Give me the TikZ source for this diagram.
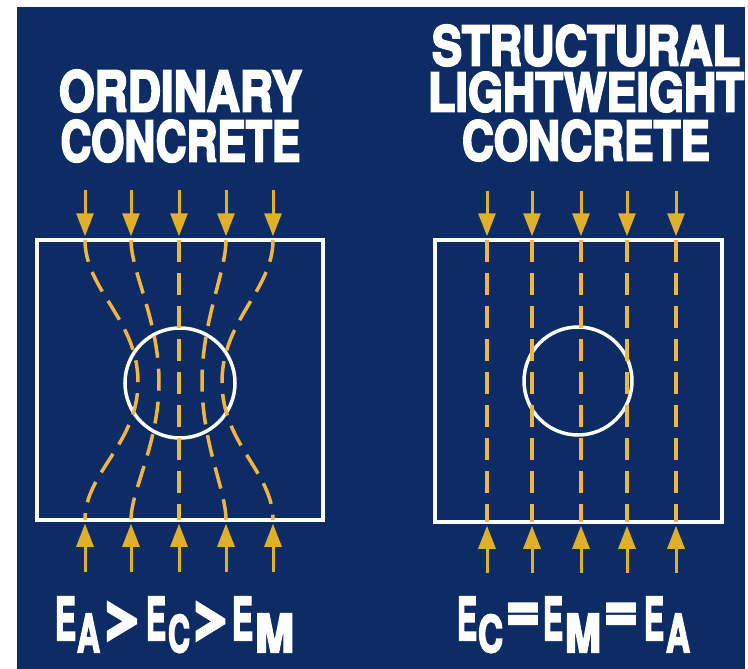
\documentclass[tikz,border=0pt]{standalone}
\usepackage{fontspec}
\setmainfont{TeX Gyre Heros}
\newfontfamily\heavy{TeX Gyre Heros}[BoldFeatures={FakeBold=4}]
\newfontfamily\symheavy{TeX Gyre Heros}[BoldFeatures={FakeBold=9}]
\newfontfamily\symeq{TeX Gyre Heros}[BoldFeatures={FakeBold=5}]
\usepackage{graphicx}
\usetikzlibrary{arrows.meta}
\definecolor{navy}{HTML}{0D2C66}
\definecolor{gold}{HTML}{E0B02A}
\definecolor{dashc}{HTML}{F2B640}
% one line of a title, centred in a fixed-width box
\newcommand{\tline}[3]{\hbox to 320pt{\hss\resizebox*{#1}{#2}{#3}\hss}}
% one glyph of an equation: kern before, raise, width, height, glyph
\newcommand{\pc}[5]{\kern#1\raisebox{#2}{\resizebox*{#3}{#4}{#5}}}
\newcommand{\sy}[1]{{\symheavy\bfseries #1}}
\newcommand{\sq}[1]{{\symeq\bfseries #1}}
\begin{document}
\begin{tikzpicture}[x=1pt,y=-1pt,
  title/.style={inner sep=0pt,outer sep=0pt,text=white,font=\heavy\bfseries},
  box/.style={draw=white,line width=3.5pt,inner sep=0pt,rectangle},
  hole/.style={draw=white,line width=3.5pt,circle,inner sep=0pt},
  force/.style={draw=gold,line width=3pt,-{Triangle[length=23pt,width=17pt]},shorten >=2pt},
  stress/.style={draw=dashc,line width=3.5pt,dash pattern=on 22pt off 11pt}]
\useasboundingbox (0,0) rectangle (748,669);
\fill[white] (0,0) rectangle (748,669);
\fill[navy] (17,7) rectangle (745,669);

% titles
\node[title,anchor=north] (titleL) at (180.5,70)
  {\vbox{\offinterlineskip\tline{243pt}{42pt}{ORDINARY}\kern8pt\tline{240pt}{42pt}{CONCRETE}}};
\node[title,anchor=north] (titleR) at (586,25)
  {\vbox{\offinterlineskip\tline{308pt}{41pt}{STRUCTURAL}\kern6pt\tline{316pt}{40pt}{LIGHTWEIGHT}\kern8pt\tline{248pt}{41pt}{CONCRETE}}};

% boxes and holes
\node[box,minimum width=286pt,minimum height=280pt] (boxL) at (180,380) {};
\node[box,minimum width=287pt,minimum height=282pt] (boxR) at (578.5,381) {};
\node[hole,minimum size=110pt] (holeL) at (180,383) {};
\node[hole,minimum size=108pt] (holeR) at (578,381) {};

% left stress lines
\draw[stress] (85,240) .. controls (85,290) and (138,320) .. (138,382) .. controls (138,444) and (85,472) .. (85,520);
\draw[stress] (131,240) .. controls (131,272) and (159,320) .. (159,382) .. controls (159,444) and (131,490) .. (131,520);
\draw[stress] (179,240) -- (179,520);
\draw[stress] (226,240) .. controls (226,272) and (202,320) .. (202,382) .. controls (202,444) and (226,490) .. (226,520);
\draw[stress] (273,240) .. controls (273,290) and (222,320) .. (222,382) .. controls (222,444) and (273,472) .. (273,520);

% right stress lines
\foreach \x in {487,532,581,627,676}{
  \draw[stress] (\x,240) -- (\x,522);
}

% arrows left
\foreach \x [count=\i] in {85,131,179,226,273}{
  \coordinate (lt\i) at (\x,190);
  \coordinate (lb\i) at (\x,572);
  \draw[force] (lt\i) -- (lt\i |- boxL.north);
  \draw[force] (lb\i) -- (lb\i |- boxL.south);
}
% arrows right
\foreach \x [count=\i] in {487,532,581,627,676}{
  \coordinate (rt\i) at (\x,191);
  \coordinate (rb\i) at (\x,573);
  \draw[force] (rt\i) -- (rt\i |- boxR.north);
  \draw[force] (rb\i) -- (rb\i |- boxR.south);
}

% equations
\node[title,anchor=base west] (eqL) at (55,640)
  {\pc{0pt}{0pt}{21pt}{43pt}{E}\pc{1pt}{-12pt}{23pt}{38pt}{A}\pc{4pt}{7pt}{38pt}{33pt}{\sy{>}}%
   \pc{4pt}{0pt}{20pt}{43pt}{E}\pc{2pt}{-12pt}{22pt}{38pt}{C}\pc{3pt}{7pt}{37pt}{33pt}{\sy{>}}%
   \pc{2pt}{0pt}{21pt}{43pt}{E}\pc{2pt}{-12pt}{39pt}{38pt}{M}};
\node[title,anchor=base west] (eqR) at (457,640)
  {\pc{0pt}{0pt}{20pt}{43pt}{E}\pc{1pt}{-12pt}{25pt}{38pt}{C}\pc{3pt}{9pt}{34pt}{27pt}{\sq{=}}%
   \pc{3pt}{0pt}{20pt}{43pt}{E}\pc{2pt}{-12pt}{36pt}{38pt}{M}\pc{3pt}{9pt}{34pt}{27pt}{\sq{=}}%
   \pc{6pt}{0pt}{20pt}{43pt}{E}\pc{2pt}{-12pt}{24pt}{38pt}{A}};
\end{tikzpicture}
\end{document}
